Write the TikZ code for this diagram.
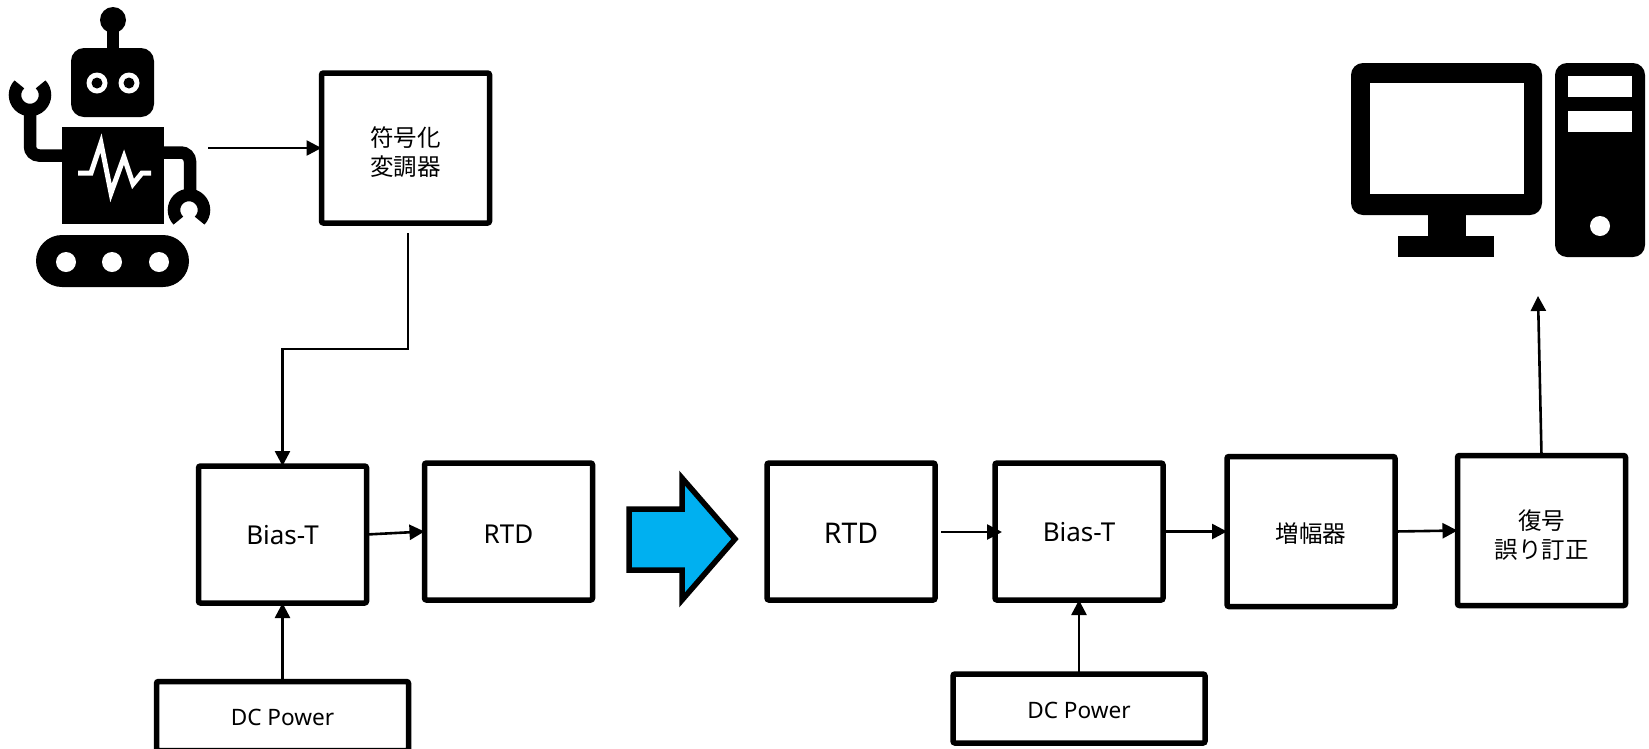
\documentclass[tikz,border=0pt]{standalone}
\usepackage{fontspec}
\setmainfont{Noto Sans}
\newfontfamily\cjk{Noto Sans CJK JP}
\usepackage{xcolor}
\usepackage{tikz}
\usetikzlibrary{
    arrows.meta,
    positioning,
    calc
}
\definecolor{shiftblue}{HTML}{00B0F0}

\begin{document}
\begin{tikzpicture}[
        x=1pt,
        y=-1pt,
        block/.style={
            rectangle,
            rounded corners=2pt,
            draw,
            line width=5.5pt,
            align=center,
            inner sep=0pt,
            outer sep=0pt,
            minimum width=168pt,
            minimum height=137pt,
            text height=20pt,
            font=\fontsize{26}{29}\selectfont
        },
        kanji/.style={
            block,
            minimum height=150pt,
            text height=24pt,
            font=\fontsize{23.5}{29}\selectfont\cjk
        },
        kanjitwo/.style={
            kanji,
            text height=58pt
        },
        power/.style={
            block,
            minimum width=252pt,
            minimum height=69pt,
            font=\fontsize{22.6}{29}\selectfont
        },
        line/.style={
            -{Triangle[length=15pt,width=15pt]},
            line width=2.6pt
        },
        icon/.style={
            fill=black,
            draw=none
        },
        limb/.style={
            draw=black,
            line width=12.5pt,
            rounded corners=9pt
        },
        hole/.style={
            fill=white,
            draw=none
        }
    ]
    \useasboundingbox (0,0) rectangle (1649,748);

    % robot
    \fill[icon] (113,20) circle[radius=13pt];
    \fill[icon] (107,20) rectangle (119,55);
    \fill[icon, rounded corners=13pt] (71,48) rectangle (154,117);
    \fill[hole] (97,83) circle[radius=10.5pt];
    \fill[hole] (129,83) circle[radius=10.5pt];
    \fill[icon] (97,83) circle[radius=5.5pt];
    \fill[icon] (129,83) circle[radius=5.5pt];
    \fill[icon] (62,127) rectangle (164,224);
    \draw[limb] (64,155.5) -- (30,155.5) -- (30,110);
    \draw[limb] (162,152.5) -- (190,152.5) -- (190,192);
    \draw[draw=black, line width=12.5pt] (40.6,84.4) arc[start angle=45, end angle=-225, radius=15pt];
    \draw[draw=black, line width=12.5pt] (199.6,220.6) arc[start angle=-45, end angle=225, radius=15pt];
    \draw[white, line width=5pt, line join=miter] (78,173) -- (91,173) -- (101,143) -- (111,193) -- (124,157) -- (133,184) -- (142,173) -- (151,173);
    \fill[icon, rounded corners=26pt] (36,235) rectangle (189,287);
    \fill[hole] (66,262) circle[radius=10pt];
    \fill[hole] (112,262) circle[radius=10pt];
    \fill[hole] (159,262) circle[radius=10pt];

    % computer
    \fill[icon, rounded corners=12pt] (1351,63) rectangle (1542,215);
    \fill[hole] (1370,83) rectangle (1524,194);
    \fill[icon] (1428,214) rectangle (1466,237);
    \fill[icon] (1398,236) rectangle (1494,257);
    \fill[icon, rounded corners=12pt] (1555,63) rectangle (1645,257);
    \fill[hole] (1568,76) rectangle (1632,97);
    \fill[hole] (1568,111) rectangle (1632,132);
    \fill[hole] (1600,226) circle[radius=10pt];

    % transmitter
    \node[kanjitwo] (coder) at (405.5,148)
        {符号化\\変調器};
    \node[block] (biasl) at (282.5,534.5) {Bias-T};
    \node[block, right=58pt of biasl, yshift=3pt, text height=23pt] (rtdl) {RTD};
    \node[power, below=78.5pt of biasl] (dcl) {DC Power};

    % shift arrow
    \draw[fill=shiftblue, line width=5.5pt, miter limit=10] (629,509) -- (682,509) -- (682,478)
        -- (735,539) -- (682,600) -- (682,570) -- (629,570) -- cycle;

    % receiver
    \node[block, text height=23pt] (rtdr) at (851,531.5) {\fontsize{28.5}{31}\selectfont RTD};
    \node[block, right=60pt of rtdr] (biasr) {Bias-T};
    \node[kanji, right=64pt of biasr] (amp) {増幅器};
    \node[kanjitwo, right=62.5pt of amp, yshift=1pt] (dec)
        {復号\\誤り訂正};
    \node[power, below=74pt of biasr] (dcr) {DC Power};

    \coordinate (robotout) at (208,148);
    \coordinate (coderout) at (408,233);
    \coordinate (coderbend) at (408,349);
    \coordinate (biasbend) at (282.5,349);
    \coordinate (rtdout) at (941,532);
    \coordinate (biasin) at (1002,532);
    \coordinate (pcin) at (1538,296);

    \draw[line] (robotout) -- (coder.west);
    \draw[line] (coderout) -- (coderbend) -- (biasbend) -- (biasl.north);
    \draw[line] (biasl.east) -- (rtdl.west);
    \draw[line] (dcl.north) -- (biasl.south);
    \draw[line] (rtdout) -- (biasin);
    \draw[line] (biasr.east) -- (amp.west);
    \draw[line] (amp.east) -- (dec.west);
    \draw[line] (dec.north) -- (pcin);
    \draw[line] (dcr.north) -- (biasr.south);

\end{tikzpicture}
\end{document}
